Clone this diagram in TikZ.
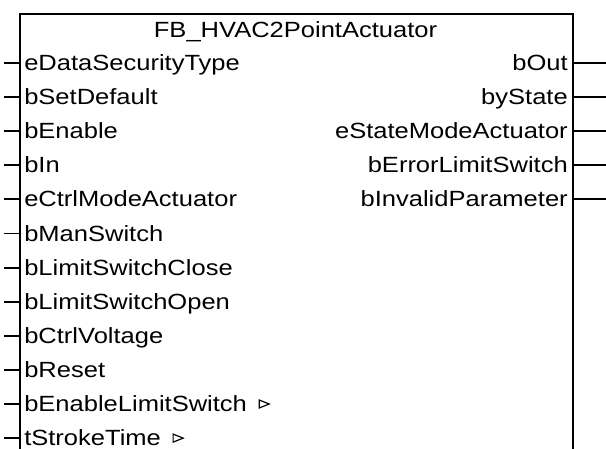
\documentclass[tikz,border=0pt]{standalone}
\usepackage{fontspec}
\setmainfont{Liberation Sans}[FakeStretch=1.16]
\begin{document}
\begin{tikzpicture}[x=0.75pt,y=-0.75pt,
  pinlabel/.style={inner sep=0pt, font=\fontsize{16.5pt}{20pt}\selectfont, text=black},
  boxline/.style={line width=1.5pt, black},
  pinline/.style={line width=1.4pt, black},
  tri/.style={line width=0.9pt, black}]
\fill[white] (0,0) rectangle (606,449);
\useasboundingbox (0,0) rectangle (606,449);
% block outline (open at the bottom)
\coordinate (bl) at (20,449);
\coordinate (tl) at (20,14);
\coordinate (tr) at (573,14);
\coordinate (br) at (573,449);
\draw[boxline] (bl) -- (tl) -- (tr) -- (br);
\node[pinlabel, anchor=base] (title) at (295.5,37.5) {FB\_HVAC2PointActuator};
% inputs
\foreach \name [count=\i from 0] in {eDataSecurityType,bSetDefault,bEnable,bIn,eCtrlModeActuator,bManSwitch,bLimitSwitchClose,bLimitSwitchOpen,bCtrlVoltage,bReset,bEnableLimitSwitch,tStrokeTime}{
  \pgfmathsetmacro\ry{63+34.1*\i}
  \coordinate (inE\i) at (4,\ry);
  \coordinate (in\i) at (20,\ry);
  \draw[pinline] (inE\i) -- (in\i);
  \node[pinlabel, anchor=base west] (l\i) at (24,\ry+7.5) {\name};
}
% outputs
\foreach \name [count=\i from 0] in {bOut,byState,eStateModeActuator,bErrorLimitSwitch,bInvalidParameter}{
  \pgfmathsetmacro\ry{63+34.1*\i}
  \coordinate (out\i) at (573,\ry);
  \coordinate (outE\i) at (606,\ry);
  \draw[pinline] (out\i) -- (outE\i);
  \node[pinlabel, anchor=base east] (r\i) at (568,\ry+7.5) {\name};
}
% small triangle markers
\draw[tri] ([xshift=9pt]l10.base east) ++(0,-3.5) -- ++(0,-8) -- ++(10,4) -- cycle;
\draw[tri] ([xshift=9pt]l11.base east) ++(0,-3.5) -- ++(0,-8) -- ++(10,4) -- cycle;
\end{tikzpicture}
\end{document}
